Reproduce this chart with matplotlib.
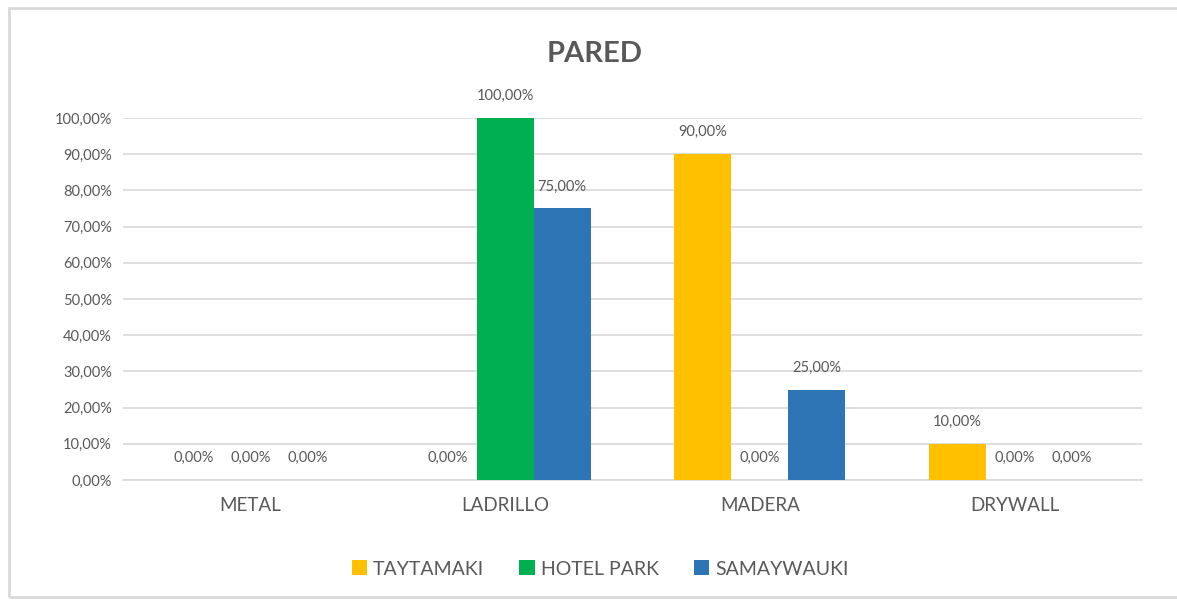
import matplotlib.pyplot as plt
import numpy as np

categories = ['METAL', 'LADRILLO', 'MADERA', 'DRYWALL']
series = ['TAYTAMAKI', 'HOTEL PARK', 'SAMAYWAUKI']
taytamaki = [0, 0, 90, 10]
hotel_park = [0, 100, 0, 0]
samaywauki = [0, 75, 25, 0]
colors = ['#FFC000', '#00B050', '#2E75B6']
yticks = [0, 10, 20, 30, 40, 50, 60, 70, 80, 90, 100]

plt.rcParams['font.family'] = ['Lato', 'DejaVu Sans']
gray = '#595959'

def pct(v):
    return ('%.2f%%' % v).replace('.', ',')

fig = plt.figure(figsize=(11.77, 6.02), dpi=100)
ax = fig.add_axes([123/1177, 122/602, (1142-123)/1177, 362/602])

# figure border
fig.patches.append(plt.Rectangle((9/1177, 5/602), 1.2, 589/602, transform=fig.transFigure,
                                 fill=False, edgecolor='#D9D9D9', linewidth=2))

x = np.arange(len(categories))
w = 0.224
for i, (vals, name) in enumerate(zip([taytamaki, hotel_park, samaywauki], series)):
    pos = x + (i - 1) * w
    ax.bar(pos, vals, width=w, color=colors[i], label=name, zorder=3)
    for p, v in zip(pos, vals):
        ax.annotate(pct(v), (p, v), xytext=(0, 22), textcoords='offset pixels',
                    ha='center', va='center', fontsize=10.5, color=gray)

ax.set_xlim(-0.5, 3.5)
ax.set_ylim(0, 100)
ax.set_yticks(yticks)
ax.set_yticklabels([pct(t) for t in yticks], fontsize=10.5, color=gray)
ax.set_xticks(x)
ax.set_xticklabels(categories, fontsize=13.5, color=gray)
ax.tick_params(axis='both', length=0, pad=8)
ax.tick_params(axis='x', pad=12)
ax.grid(axis='y', color='#D9D9D9', linewidth=1.2, zorder=0)
for s in ['top', 'right', 'left']:
    ax.spines[s].set_visible(False)
ax.spines['bottom'].set_color('#D9D9D9')
ax.spines['bottom'].set_linewidth(1.2)

fig.text(595/1177, 1 - 54/602, 'PARED', ha='center', va='center', fontsize=21,
         fontweight='bold', color=gray)

fig.legend(loc='center', bbox_to_anchor=(600/1177, 1 - 569/602), ncol=3, frameon=False,
           fontsize=14, labelcolor=gray, handlelength=0.8, handleheight=0.8,
           handletextpad=0.3, columnspacing=1.8)

plt.savefig('out.png', dpi=100)
